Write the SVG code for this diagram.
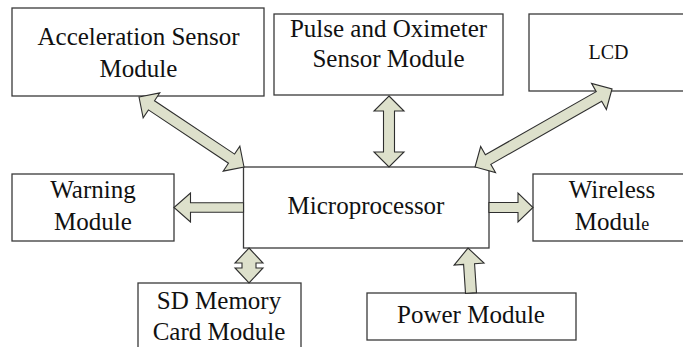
<svg xmlns="http://www.w3.org/2000/svg" width="683" height="347" viewBox="0 0 683 347">
<style>
.box{fill:#fff;stroke:#3a3a3a;stroke-width:1.3}
.arr{fill:#dde0cb;stroke:#2e2e2e;stroke-width:1.1;stroke-linejoin:miter}
</style>
<rect width="683" height="347" fill="#fff"/>
<g id="acceleration">
<rect class="box" x="12" y="8" width="252" height="88"/>
<text x="138.5" y="45" font-family="Liberation Serif" font-size="25" text-anchor="middle" fill="#111">Acceleration Sensor</text>
<text x="138.5" y="77" font-family="Liberation Serif" font-size="25" text-anchor="middle" fill="#111">Module</text>
</g>
<g id="pulse">
<rect class="box" x="274" y="14" width="229" height="81"/>
<text x="388.5" y="37" font-family="Liberation Serif" font-size="25" text-anchor="middle" fill="#111">Pulse and Oximeter</text>
<text x="388.5" y="67" font-family="Liberation Serif" font-size="25" text-anchor="middle" fill="#111">Sensor Module</text>
</g>
<g id="lcd">
<rect class="box" x="529" y="14" width="160" height="77"/>
<text x="608.5" y="59" font-family="Liberation Serif" font-size="20" text-anchor="middle" fill="#111">LCD</text>
</g>
<g id="microprocessor">
<rect class="box" x="243.5" y="167" width="245.5" height="81"/>
<text x="366" y="214" font-family="Liberation Serif" font-size="25" text-anchor="middle" fill="#111">Microprocessor</text>
</g>
<g id="warning">
<rect class="box" x="12" y="174" width="162" height="67"/>
<text x="93" y="198" font-family="Liberation Serif" font-size="25" text-anchor="middle" fill="#111">Warning</text>
<text x="93" y="230" font-family="Liberation Serif" font-size="25" text-anchor="middle" fill="#111">Module</text>
</g>
<g id="wireless">
<rect class="box" x="533" y="174" width="160" height="67"/>
<text x="612" y="198" font-family="Liberation Serif" font-size="25" text-anchor="middle" fill="#111">Wireless</text>
<text x="612" y="230" font-family="Liberation Serif" font-size="25" text-anchor="middle" fill="#111">Modul<tspan font-size="18">e</tspan></text>
</g>
<g id="sdcard">
<rect class="box" x="138" y="283" width="163" height="80"/>
<text x="219" y="309" font-family="Liberation Serif" font-size="25" text-anchor="middle" fill="#111">SD Memory</text>
<text x="219" y="340" font-family="Liberation Serif" font-size="25" text-anchor="middle" fill="#111">Card Module</text>
</g>
<g id="power">
<rect class="box" x="367" y="293" width="209" height="47"/>
<text x="471" y="323" font-family="Liberation Serif" font-size="25" text-anchor="middle" fill="#111">Power Module</text>
</g>
<g id="connectors">
<polygon class="arr" transform="translate(139,97) rotate(33.69)" points="0,0 15,-15 15,-5.5 111.2,-5.5 111.2,-15 126.2,0 111.2,15 111.2,5.5 15,5.5 15,15"/>
<polygon class="arr" transform="translate(389,96) rotate(90)" points="0,0 15,-15 15,-5.5 56,-5.5 56,-15 71,0 56,15 56,5.5 15,5.5 15,15"/>
<polygon class="arr" transform="translate(612,89) rotate(150.34)" points="0,0 15,-15 15,-5.5 142.6,-5.5 142.6,-15 157.6,0 142.6,15 142.6,5.5 15,5.5 15,15"/>
<polygon class="arr" transform="translate(243.5,207.5) rotate(180)" points="0,-4.8 53,-4.8 53,-14.5 69.5,0 53,14.5 53,4.8 0,4.8"/>
<polygon class="arr" transform="translate(489,207.5)" points="0,-5 29,-5 29,-14.5 44,0 29,14.5 29,5 0,5"/>
<polygon class="arr" transform="translate(471,293) rotate(-93.8)" points="0,-5.5 29,-5.5 29,-15 45,0 29,15 29,5.5 0,5.5"/>
<polygon class="arr" transform="translate(249,248) rotate(90)" points="0,0 15,-14 15,-7 20,-7 20,-14 35,0 20,14 20,7 15,7 15,14"/>
</g>
</svg>
